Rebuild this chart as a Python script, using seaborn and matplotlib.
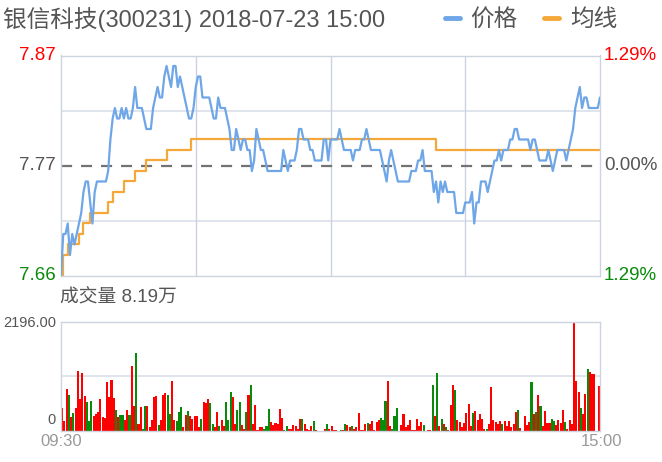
import numpy as np
import pandas as pd
import matplotlib
matplotlib.use("Agg")
import matplotlib.pyplot as plt
from matplotlib.lines import Line2D
import matplotlib.transforms as mtransforms
import seaborn as sns

# ---------------- data ----------------
title = "银信科技(300231) 2018-07-23 15:00"
legend_labels = ["价格", "均线"]
price_tick_labels = ["7.87", "7.77", "7.66"]
pct_tick_labels = ["1.29%", "0.00%", "1.29%"]
volume_title = "成交量 8.19万"
volume_tick_labels = ["2196.00", "0"]
time_labels = ["09:30", "15:00"]

price_low, price_high = 7.66, 7.87
volume_max = 2196.0

price = [
    7.66, 7.70, 7.70, 7.71, 7.68, 7.70, 7.69, 7.70, 7.71, 7.72,
    7.74, 7.75, 7.75, 7.73, 7.71, 7.74, 7.75, 7.75, 7.75, 7.75,
    7.75, 7.76, 7.79, 7.81, 7.82, 7.81, 7.81, 7.82, 7.81, 7.82,
    7.81, 7.81, 7.82, 7.84, 7.82, 7.82, 7.82, 7.81, 7.80, 7.80,
    7.80, 7.82, 7.83, 7.84, 7.83, 7.83, 7.85, 7.86, 7.85, 7.84,
    7.86, 7.86, 7.84, 7.85, 7.84, 7.83, 7.82, 7.81, 7.81, 7.82,
    7.84, 7.85, 7.85, 7.83, 7.83, 7.83, 7.83, 7.82, 7.81, 7.81,
    7.83, 7.82, 7.82, 7.82, 7.81, 7.80, 7.78, 7.78, 7.80, 7.79,
    7.78, 7.79, 7.79, 7.78, 7.78, 7.76, 7.77, 7.80, 7.79, 7.78,
    7.78, 7.77, 7.76, 7.76, 7.76, 7.76, 7.76, 7.76, 7.76, 7.78,
    7.77, 7.76, 7.77, 7.77, 7.77, 7.78, 7.80, 7.80, 7.79, 7.79,
    7.79, 7.78, 7.78, 7.77, 7.77, 7.77, 7.77, 7.79, 7.79, 7.77,
    7.79, 7.79, 7.79, 7.79, 7.80, 7.79, 7.78, 7.78, 7.78, 7.78,
    7.77, 7.78, 7.78, 7.78, 7.79, 7.79, 7.80, 7.79, 7.78, 7.78,
    7.78, 7.78, 7.78, 7.77, 7.76, 7.75, 7.77, 7.78, 7.77, 7.76,
    7.75, 7.75, 7.75, 7.75, 7.75, 7.75, 7.76, 7.76, 7.76, 7.77,
    7.77, 7.78, 7.76, 7.76, 7.76, 7.76, 7.74, 7.75, 7.73, 7.75,
    7.74, 7.75, 7.74, 7.74, 7.74, 7.74, 7.72, 7.72, 7.72, 7.72,
    7.73, 7.73, 7.73, 7.74, 7.71, 7.73, 7.73, 7.75, 7.75, 7.75,
    7.74, 7.75, 7.76, 7.77, 7.77, 7.78, 7.77, 7.78, 7.78, 7.78,
    7.79, 7.79, 7.80, 7.80, 7.79, 7.79, 7.79, 7.79, 7.79, 7.78,
    7.79, 7.79, 7.78, 7.77, 7.77, 7.77, 7.77, 7.78, 7.77, 7.76,
    7.77, 7.78, 7.78, 7.78, 7.78, 7.77, 7.78, 7.79, 7.80, 7.82,
    7.83, 7.84, 7.82, 7.83, 7.83, 7.82, 7.82, 7.82, 7.82, 7.82,
    7.83,
]

# average price line, as (level, number of minutes) runs
avg_levels = [7.66, 7.68, 7.69, 7.70, 7.71, 7.72, 7.73, 7.74, 7.75, 7.76, 7.77, 7.78, 7.79, 7.78]
avg_counts = [1, 2, 5, 2, 3, 8, 2, 5, 5, 5, 9, 11, 109, 74]

volume = [
    470, 202, 833, 719, 282, 363, 470, 1203, 632, 1169,
    699, 585, 202, 605, 296, 336, 383, 632, 282, 269,
    981, 672, 1021, 652, 430, 282, 316, 316, 228, 417,
    316, 1304, 511, 1572, 148, 484, 47, 497, 497, 81,
    215, 672, 699, 114, 215, 719, 753, 719, 336, 995,
    228, 195, 383, 484, 81, 316, 403, 300, 250, 296,
    296, 81, 249, 585, 564, 632, 564, 148, 81, 383,
    94, 215, 94, 585, 228, 786, 672, 148, 430, 585,
    114, 47, 383, 719, 921, 148, 517, 27, 81, 81,
    47, 94, 450, 181, 114, 161, 134, 444, 269, 27,
    94, 47, 47, 114, 94, 47, 249, 249, 148, 47,
    27, 94, 195, 13, 5, 5, 5, 47, 148, 47,
    94, 27, 27, 5, 27, 13, 134, 114, 81, 101,
    47, 81, 363, 27, 27, 134, 161, 148, 202, 13,
    175, 228, 269, 215, 605, 995, 94, 47, 309, 464,
    5, 114, 336, 81, 114, 215, 27, 13, 242, 94,
    175, 128, 5, 13, 27, 914, 296, 1156, 94, 249,
    134, 81, 27, 531, 927, 820, 228, 175, 81, 161,
    363, 551, 94, 363, 403, 215, 349, 249, 40, 47,
    134, 874, 228, 181, 148, 202, 148, 202, 94, 202,
    81, 148, 383, 430, 67, 5, 296, 114, 181, 988,
    349, 383, 719, 497, 94, 403, 161, 161, 249, 202,
    114, 215, 161, 417, 181, 47, 228, 134, 2196, 1008,
    786, 470, 349, 739, 1250, 1183, 1142, 1142, 0, 900,
]

# r = up (red), g = down (green)
direction = (
    "rrrgrgrrrr" "rgggrrrrrr" "rrrrgrggrr" "grrgrrggrr" "rrrgrrrggr"
    "rgggrrgrrr" "rrgrrrggrr" "grrgggrrgg" "rrgrgrrrrr" "gggrrrrrrg"
    "grrrrrrgrr" "rrgrrrrrgr" "rrrrgrgrrg" "rrrrrrgrrr" "rrgggrrggg"
    "rrrrrrrrrr" "rgrrrgrgrg" "rgrrrgrrrr" "rrrgrrrrrg" "rrrrrrgrrr"
    "rrrgrrrrrg" "rgrgrrrrgg" "rrrrgrrrrr" "rgrrgrrrrr"
)

# ---------------- frames ----------------
n = len(price)
df = pd.DataFrame({
    "minute": np.arange(n),
    "price": price,
    "avg": np.repeat(avg_levels, avg_counts)[:n],
})
vdf = pd.DataFrame({
    "minute": np.arange(len(volume)),
    "volume": volume,
    "dir": list(direction),
})

# ---------------- style ----------------
sns.set_theme(style="white")
plt.rcParams["font.family"] = ["Liberation Sans", "Noto Sans CJK SC", "DejaVu Sans"]

W, H = 662, 462
BLUE = "#6ea6e8"
ORANGE = "#f6a73a"
RED = "#ff0000"
GREEN = "#0a8a0a"
GRAY = "#555555"
FRAME = "#cdd3df"
GRID = "#dde2ea"

fig = plt.figure(figsize=(W / 100, H / 100), dpi=100)
ax1 = fig.add_axes([61 / W, (H - 276) / H, 539 / W, 220.5 / H])
ax2 = fig.add_axes([61 / W, (H - 431) / H, 539 / W, 109.5 / H])

# ---------------- price panel ----------------
mid = (price_low + price_high) / 2
span = price_high - price_low
for frac in (0.25, 0.75):
    ax1.axhline(price_low + span * frac, color=GRID, lw=1.3, zorder=0)
for xv in (60, 120, 180):
    ax1.axvline(xv, color="#cbd3e2", lw=1.0, zorder=0)
ax1.axhline(mid, color="#737373", lw=1.6, dashes=(5, 4), zorder=1)

sns.lineplot(data=df, x="minute", y="price", ax=ax1, color=BLUE, lw=1.6, zorder=3)
sns.lineplot(data=df, x="minute", y="avg", ax=ax1, color=ORANGE, lw=1.6, zorder=2,
             drawstyle="steps-post")

ax1.set_xlim(0, n - 1)
ax1.set_ylim(price_low, price_high)
ax1.set_xticks([])
ax1.set_yticks([])
ax1.set_xlabel("")
ax1.set_ylabel("")
for sp in ax1.spines.values():
    sp.set_color(FRAME)
    sp.set_linewidth(1.0)

trans_l = mtransforms.blended_transform_factory(fig.transFigure, ax1.transData)
label_colors = [RED, GRAY, GREEN]
label_pos = [price_high, mid, price_low]
for lab, yv, c in zip(price_tick_labels, label_pos, label_colors):
    fig.text(56 / W, yv, lab, transform=trans_l, ha="right", va="center",
             fontsize=13.5, color=c)
for lab, yv, c in zip(pct_tick_labels, label_pos, label_colors):
    fig.text(604 / W, yv, lab, transform=trans_l, ha="left", va="center",
             fontsize=13.5, color=c)

# ---------------- volume panel ----------------
ax2.axhline(volume_max / 2, color=GRID, lw=1.3, zorder=0)
sns.barplot(data=vdf, x="minute", y="volume", hue="dir",
            palette={"r": RED, "g": GREEN}, dodge=False, width=0.92,
            saturation=1, linewidth=0, errorbar=None, legend=False, ax=ax2, zorder=2)
ax2.set_xlim(-0.5, len(volume) - 0.5)
ax2.set_ylim(0, volume_max)
ax2.set_xticks([])
ax2.set_yticks([])
ax2.set_xlabel("")
ax2.set_ylabel("")
for sp in ax2.spines.values():
    sp.set_color(FRAME)
    sp.set_linewidth(1.0)

fig.text(60 / W, 1 - 298 / H, volume_title, ha="left", va="center",
         fontsize=13.5, color=GRAY)
fig.text(56 / W, 1 - 323 / H, volume_tick_labels[0], ha="right", va="center",
         fontsize=10.5, color=GRAY)
fig.text(56 / W, 1 - 420 / H, volume_tick_labels[1], ha="right", va="center",
         fontsize=10.5, color=GRAY)
fig.text(61 / W, 1 - 441 / H, time_labels[0], ha="center", va="center",
         fontsize=12, color="#999999")
fig.text(601 / W, 1 - 441 / H, time_labels[1], ha="center", va="center",
         fontsize=12, color="#999999")

# ---------------- title and legend ----------------
fig.text(3 / W, 1 - 20 / H, title, ha="left", va="center", fontsize=17, color=GRAY)
handles = [Line2D([], [], color=BLUE, lw=3.5), Line2D([], [], color=ORANGE, lw=3.5)]
fig.legend(handles, legend_labels, loc="center right",
           bbox_to_anchor=(617 / W, 1 - 20 / H), ncol=2, frameon=False,
           fontsize=17, handlelength=0.65, handletextpad=0.45, columnspacing=1.1,
           labelcolor=GRAY, borderaxespad=0, borderpad=0)

fig.savefig("out.png", dpi=100)
